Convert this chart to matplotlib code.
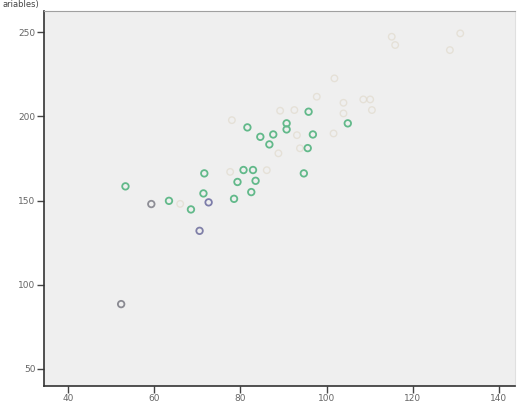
import matplotlib
matplotlib.use("Agg")
import matplotlib.pyplot as plt

# --- DATA ---
green_x = [53.3, 63.4, 68.5, 71.4, 71.6, 78.5, 79.3, 80.7, 82.9, 83.5, 82.5,
           81.6, 84.6, 87.6, 86.7, 90.7, 90.7, 95.8, 96.8, 95.6, 94.7, 104.9]
green_y = [158.4, 149.8, 144.7, 154.2, 166.1, 151.0, 161.0, 168.1, 168.1, 161.7, 155.0,
           193.4, 187.8, 189.2, 183.3, 195.8, 192.2, 202.7, 189.2, 181.1, 166.1, 195.8]

gray_x = [52.3, 59.3, 70.5, 72.6]
gray_y = [88.5, 147.9, 132.0, 148.9]
gray_c = ['#8a8a92', '#8e8e96', '#8080a8', '#7d7daa']

faint_x = [66.0, 77.6, 78.0, 86.1, 88.8, 89.2, 92.5, 93.1, 93.8, 97.7, 101.8, 103.9,
           103.9, 101.6, 108.5, 110.1, 110.5, 115.9, 115.1, 131.0, 128.6]
faint_y = [148.0, 167.0, 197.7, 168.0, 178.0, 203.3, 203.7, 188.8, 181.0, 211.6, 222.5, 208.0,
           201.7, 189.8, 210.0, 210.0, 203.7, 242.3, 247.2, 249.2, 239.3]

x_ticks = [40, 60, 80, 100, 120, 140]
y_ticks = [50, 100, 150, 200, 250]

# --- PLOTTING ---
fig = plt.figure(figsize=(5.26, 4.04), dpi=100)
fig.patch.set_facecolor('white')
ax = fig.add_axes([0.0837, 0.0446, 0.8953, 0.9282])
ax.set_facecolor('#efefef')

ax.scatter(faint_x, faint_y, s=22, facecolors='none', edgecolors='#ddd5c4',
           linewidths=1.0, alpha=0.55, zorder=2)
ax.scatter(green_x, green_y, s=22, facecolors='none', edgecolors='#62b98a',
           linewidths=1.3, zorder=3)
ax.scatter(gray_x, gray_y, s=22, facecolors='none', edgecolors=gray_c,
           linewidths=1.3, zorder=3)

ax.set_xlim(34.4, 143.7)
ax.set_ylim(39.9, 262.5)
ax.set_xticks(x_ticks)
ax.set_yticks(y_ticks)
ax.tick_params(axis='both', labelsize=6.5, labelcolor='#666666', color='#444444',
               length=5, width=1, pad=1)

for side in ['left', 'bottom']:
    ax.spines[side].set_color('#333333')
    ax.spines[side].set_linewidth(1.2)
ax.spines['top'].set_color('#a0a0a0')
ax.spines['right'].set_color('#e0e0e0')

# small title fragment above the plot
fig.text(0.005, 0.999, 'ariables)', fontsize=6, color='#444444', va='top', ha='left')

plt.savefig('out.png', dpi=100)
